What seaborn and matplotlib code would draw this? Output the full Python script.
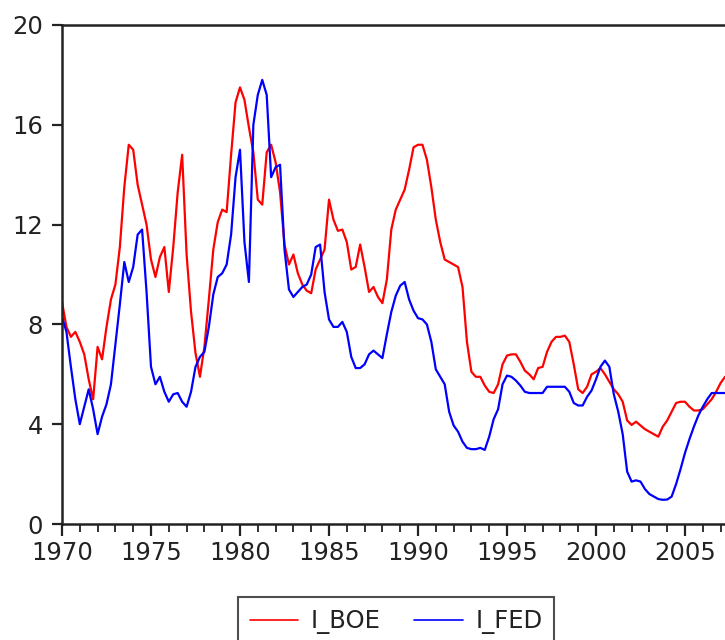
import numpy as np
import pandas as pd
import matplotlib
matplotlib.use("Agg")
import matplotlib.pyplot as plt
from matplotlib.ticker import MultipleLocator
import seaborn as sns

# Quarterly observations, 1970Q1 .. 2007Q2
start_year = 1970
i_boe = [
    8.9, 7.9, 7.5, 7.7,      # 1970
    7.3, 6.8, 5.8, 5.0,      # 1971
    7.1, 6.6, 7.9, 9.0,      # 1972
    9.6, 11.1, 13.5, 15.2,   # 1973
    15.0, 13.6, 12.8, 12.0,  # 1974
    10.6, 9.9, 10.7, 11.1,   # 1975
    9.3, 11.1, 13.3, 14.8,   # 1976
    10.8, 8.5, 6.85, 5.9,    # 1977
    7.1, 9.0, 11.0, 12.1,    # 1978
    12.6, 12.5, 14.8, 16.9,  # 1979
    17.5, 17.0, 15.9, 14.9,  # 1980
    13.0, 12.8, 14.9, 15.2,  # 1981
    14.5, 13.3, 11.2, 10.4,  # 1982
    10.8, 10.05, 9.6, 9.35,  # 1983
    9.25, 10.2, 10.6, 11.0,  # 1984
    13.0, 12.2, 11.75, 11.8, # 1985
    11.3, 10.2, 10.3, 11.2,  # 1986
    10.3, 9.3, 9.5, 9.1,     # 1987
    8.85, 9.8, 11.8, 12.6,   # 1988
    13.0, 13.4, 14.2, 15.1,  # 1989
    15.2, 15.2, 14.6, 13.5,  # 1990
    12.2, 11.3, 10.6, 10.5,  # 1991
    10.4, 10.3, 9.5, 7.3,    # 1992
    6.1, 5.9, 5.9, 5.55,     # 1993
    5.3, 5.25, 5.6, 6.4,     # 1994
    6.75, 6.8, 6.8, 6.5,     # 1995
    6.15, 6.0, 5.8, 6.25,    # 1996
    6.3, 6.9, 7.3, 7.5,      # 1997
    7.5, 7.55, 7.3, 6.4,     # 1998
    5.4, 5.25, 5.5, 6.0,     # 1999
    6.1, 6.25, 6.0, 5.7,     # 2000
    5.4, 5.2, 4.9, 4.15,     # 2001
    3.97, 4.1, 3.95, 3.8,    # 2002
    3.7, 3.6, 3.5, 3.9,      # 2003
    4.15, 4.5, 4.85, 4.9,    # 2004
    4.9, 4.7, 4.55, 4.55,    # 2005
    4.6, 4.8, 5.0, 5.3,      # 2006
    5.65, 5.9,               # 2007
]
i_fed = [
    8.3, 7.7, 6.3, 5.0,      # 1970
    4.0, 4.7, 5.4, 4.6,      # 1971
    3.6, 4.3, 4.8, 5.6,      # 1972
    7.2, 8.8, 10.5, 9.7,     # 1973
    10.3, 11.6, 11.8, 9.3,   # 1974
    6.3, 5.6, 5.9, 5.3,      # 1975
    4.9, 5.2, 5.25, 4.9,     # 1976
    4.7, 5.3, 6.3, 6.7,      # 1977
    6.9, 7.9, 9.2, 9.9,      # 1978
    10.05, 10.4, 11.6, 13.9, # 1979
    15.0, 11.3, 9.7, 16.0,   # 1980
    17.2, 17.8, 17.2, 13.9,  # 1981
    14.3, 14.4, 11.0, 9.4,   # 1982
    9.1, 9.3, 9.5, 9.6,      # 1983
    10.0, 11.1, 11.2, 9.3,   # 1984
    8.2, 7.9, 7.9, 8.1,      # 1985
    7.7, 6.7, 6.25, 6.25,    # 1986
    6.4, 6.8, 6.95, 6.8,     # 1987
    6.65, 7.6, 8.5, 9.15,    # 1988
    9.55, 9.7, 9.0, 8.55,    # 1989
    8.25, 8.2, 8.0, 7.3,     # 1990
    6.2, 5.9, 5.6, 4.5,      # 1991
    3.95, 3.7, 3.3, 3.05,    # 1992
    3.0, 3.0, 3.05, 2.97,    # 1993
    3.5, 4.2, 4.6, 5.6,      # 1994
    5.95, 5.9, 5.75, 5.55,   # 1995
    5.3, 5.25, 5.25, 5.25,   # 1996
    5.25, 5.5, 5.5, 5.5,     # 1997
    5.5, 5.5, 5.3, 4.85,     # 1998
    4.75, 4.75, 5.1, 5.35,   # 1999
    5.8, 6.3, 6.55, 6.3,     # 2000
    5.2, 4.5, 3.6, 2.1,      # 2001
    1.7, 1.75, 1.7, 1.4,     # 2002
    1.2, 1.1, 1.0, 0.97,     # 2003
    0.98, 1.1, 1.6, 2.2,     # 2004
    2.85, 3.4, 3.9, 4.35,    # 2005
    4.7, 5.0, 5.25, 5.25,    # 2006
    5.25, 5.25,              # 2007
]
series_names = ["I_BOE", "I_FED"]
series_colors = ["#ff0000", "#0000ff"]
y_ticks = [0, 4, 8, 12, 16, 20]
x_major = [1970, 1975, 1980, 1985, 1990, 1995, 2000, 2005]

t = start_year + np.arange(len(i_boe)) * 0.25
df = pd.DataFrame({
    "t": np.concatenate([t, t]),
    "value": np.concatenate([i_boe, i_fed]),
    "series": [series_names[0]] * len(i_boe) + [series_names[1]] * len(i_fed),
})

sns.set_theme(style="white")
plt.rcParams["font.family"] = ["DejaVu Sans"]
FS = 17.5

fig = plt.figure(figsize=(7.25, 6.4), dpi=100)
W, H = 725, 640
x0, y_top, y_bot = 62, 25, 524
px_per_year = 17.8
xmin, xmax = 1970, 2007.5
ax = fig.add_axes([x0 / W, (H - y_bot) / H, (xmax - xmin) * px_per_year / W, (y_bot - y_top) / H])

sns.lineplot(data=df, x="t", y="value", hue="series", hue_order=series_names,
             palette=dict(zip(series_names, series_colors)), linewidth=1.6,
             ax=ax, legend=True)

ax.set_xlim(xmin, xmax)
ax.set_ylim(0, 20)
ax.set_xlabel("")
ax.set_ylabel("")
ax.set_yticks(y_ticks)
ax.set_yticklabels([str(v) for v in y_ticks])
ax.set_xticks(x_major)
ax.set_xticklabels([str(v) for v in x_major])
ax.xaxis.set_minor_locator(MultipleLocator(1))

for side in ["left", "bottom", "top", "right"]:
    ax.spines[side].set_color("#222222")
    ax.spines[side].set_linewidth(1.8)

ax.tick_params(axis="y", which="major", direction="out", length=7.2, width=1.6,
               color="#222222", labelsize=FS, labelcolor="#222222", pad=6.5, left=True)
ax.tick_params(axis="x", which="major", direction="out", length=8.5, width=1.6,
               color="#222222", labelsize=FS, labelcolor="#222222", pad=3.5, bottom=True)
ax.tick_params(axis="x", which="minor", direction="out", length=5.5, width=1.3,
               color="#222222", bottom=True)

handles, labels = ax.get_legend_handles_labels()
ax.get_legend().remove()
for h in handles:
    h.set_linewidth(1.2)
leg = fig.legend(handles, labels, loc="upper center",
                 bbox_to_anchor=(396 / W, 1 - 597 / H), ncol=2, frameon=True,
                 fancybox=False, edgecolor="#222222", fontsize=FS,
                 handlelength=2.0, handletextpad=0.5, columnspacing=1.4,
                 borderpad=0.5, borderaxespad=0)
leg.get_frame().set_linewidth(1.5)
for txt in leg.get_texts():
    txt.set_color("#222222")

fig.savefig("out.png", dpi=100)
